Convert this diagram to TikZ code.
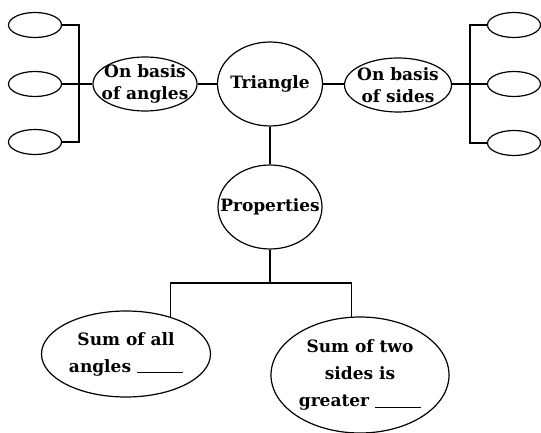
\documentclass[tikz,border=0pt]{standalone}
\usepackage{fontspec}
\setmainfont{DejaVu Serif}
\usetikzlibrary{shapes.geometric}

\newcommand{\gap}{\rule[-1pt]{46pt}{1pt}}

\begin{document}
\begin{tikzpicture}[x=1pt,y=-1pt,line width=1.2pt,
	bubble/.style={ellipse,draw,inner sep=-45pt,align=center,
		font=\fontsize{17}{22}\selectfont\bfseries},
	bigbubble/.style={bubble,font=\fontsize{17}{27}\selectfont\bfseries},
	blank/.style={ellipse,draw,inner sep=0pt,minimum width=53pt,minimum height=25pt}]
	\useasboundingbox (0,0) rectangle (541,433);
	% centre of the map
	\node[bubble,minimum width=105pt,minimum height=84pt] (tri) at (270,84) {Triangle};
	\node[bubble,minimum width=104pt,minimum height=54pt] (angles) at (145,84) {On basis\\of angles};
	\node[bubble,minimum width=107pt,minimum height=54pt] (sides) at (398,85) {On basis\\of sides};
	\node[bubble,minimum width=104pt,minimum height=84pt] (props) at (270,207) {Properties};
	% empty ovals
	\node[blank] (la1) at (35,25) {};
	\node[blank] (la2) at (35,84) {};
	\node[blank] (la3) at (35,142) {};
	\node[blank] (rs1) at (514,25) {};
	\node[blank] (rs2) at (514,84) {};
	\node[blank] (rs3) at (514,143) {};
	% properties
	\node[bigbubble,minimum width=169pt,minimum height=86pt] (sumang) at (126,354) {Sum of all\\angles \gap};
	\node[bigbubble,minimum width=178pt,minimum height=116pt] (sumtwo) at (360,375) {Sum of two\\sides is\\greater \gap};
	\coordinate (lbar) at (79,84);
	\coordinate (rbar) at (470,84);
	\coordinate (fork) at (270,283);

	\draw (angles) -- (tri);
	\draw (tri.east) -- (tri.east -| sides.west);
	\draw (tri) -- (props);
	\draw (la2) -- (angles);
	\draw (la1) -| (lbar) |- (la3);
	\draw (sides.east |- rs2.west) -- (rs2);
	\draw (rs1) -| (rbar) |- (rs3);
	\draw (props) -- (fork);
	\draw (sumang.40) |- (fork) -| (sumtwo.98);
\end{tikzpicture}
\end{document}
